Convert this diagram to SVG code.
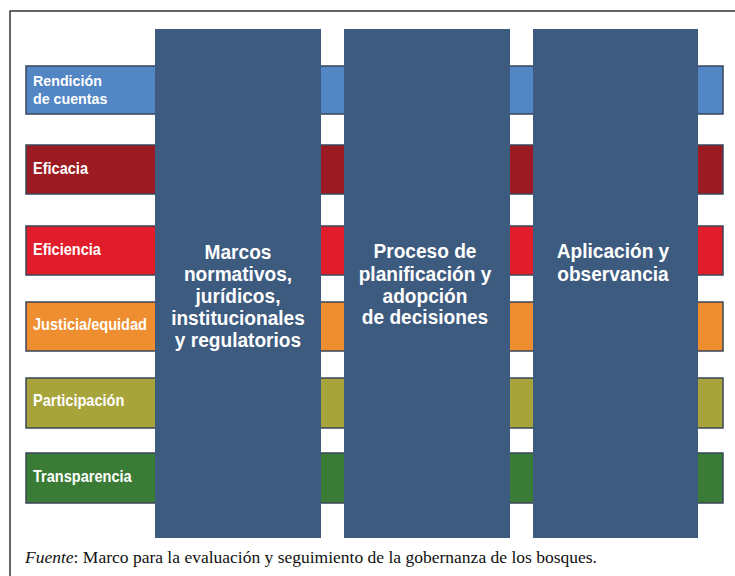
<svg xmlns="http://www.w3.org/2000/svg" width="735" height="576" viewBox="0 0 735 576">
<style>
.bar{stroke:#3a4658;stroke-width:1.5}
.col{fill:#3d5a7f}
.lbl{font-family:"Liberation Sans",Arial,sans-serif;font-weight:bold;font-size:16px;fill:#ffffff}
.ct{font-family:"Liberation Sans",Arial,sans-serif;font-weight:bold;font-size:21px;fill:#ffffff;text-anchor:middle}
.cap{font-family:"Liberation Serif","Times New Roman",serif;font-size:17.5px;fill:#111111}
</style>
<rect x="0" y="0" width="735" height="576" fill="#ffffff"/>
<g id="frame" stroke="#333333" stroke-width="1.5" fill="none">
<line x1="9.5" y1="11" x2="735" y2="11"/>
<line x1="10" y1="11" x2="10" y2="576"/>
</g>
<g id="bars">
<g id="bar-rendicion"><rect class="bar" x="26" y="66" width="697" height="48" fill="#5286c4"/>
<g transform="translate(33,0) scale(0.92,1)"><text class="lbl" x="0" y="86.5" style="font-size:15.5px">Rendición</text><text class="lbl" x="0" y="104.5" style="font-size:15.5px">de cuentas</text></g></g>
<g id="bar-eficacia"><rect class="bar" x="26" y="145" width="697" height="49" fill="#9c1b22"/>
<g transform="translate(33,0) scale(0.91,1)"><text class="lbl" x="0" y="174">Eficacia</text></g></g>
<g id="bar-eficiencia"><rect class="bar" x="26" y="226" width="697" height="49" fill="#e11d2b"/>
<g transform="translate(33,0) scale(0.91,1)"><text class="lbl" x="0" y="255">Eficiencia</text></g></g>
<g id="bar-justicia"><rect class="bar" x="26" y="302" width="697" height="49" fill="#ef8e30"/>
<g transform="translate(33,0) scale(0.91,1)"><text class="lbl" x="0" y="330">Justicia/equidad</text></g></g>
<g id="bar-participacion"><rect class="bar" x="26" y="378" width="697" height="50" fill="#a8a43c"/>
<g transform="translate(33,0) scale(0.91,1)"><text class="lbl" x="0" y="406">Participación</text></g></g>
<g id="bar-transparencia"><rect class="bar" x="26" y="453" width="697" height="50" fill="#3a7c36"/>
<g transform="translate(33,0) scale(0.91,1)"><text class="lbl" x="0" y="482">Transparencia</text></g></g>
</g>
<g id="col-marcos"><rect class="col" x="155" y="29" width="166" height="509"/>
<g transform="translate(238,0) scale(0.91,1)">
<text class="ct" x="0" y="259">Marcos</text>
<text class="ct" x="0" y="281">normativos,</text>
<text class="ct" x="0" y="303">jurídicos,</text>
<text class="ct" x="0" y="325">institucionales</text>
<text class="ct" x="0" y="347">y regulatorios</text>
</g></g>
<g id="col-proceso"><rect class="col" x="344" y="29" width="166" height="509"/>
<g transform="translate(425,0) scale(0.91,1)">
<text class="ct" x="0" y="258">Proceso de</text>
<text class="ct" x="0" y="281">planificación y</text>
<text class="ct" x="0" y="303">adopción</text>
<text class="ct" x="0" y="324">de decisiones</text>
</g></g>
<g id="col-aplicacion"><rect class="col" x="533" y="29" width="165" height="509"/>
<g transform="translate(613,0) scale(0.91,1)">
<text class="ct" x="0" y="258">Aplicación y</text>
<text class="ct" x="0" y="281">observancia</text>
</g></g>
<g id="connectors"/>
<g id="caption"><text class="cap" x="25" y="563" textLength="572" lengthAdjust="spacingAndGlyphs"><tspan font-style="italic">Fuente</tspan>: Marco para la evaluación y seguimiento de la gobernanza de los bosques.</text></g>
</svg>
